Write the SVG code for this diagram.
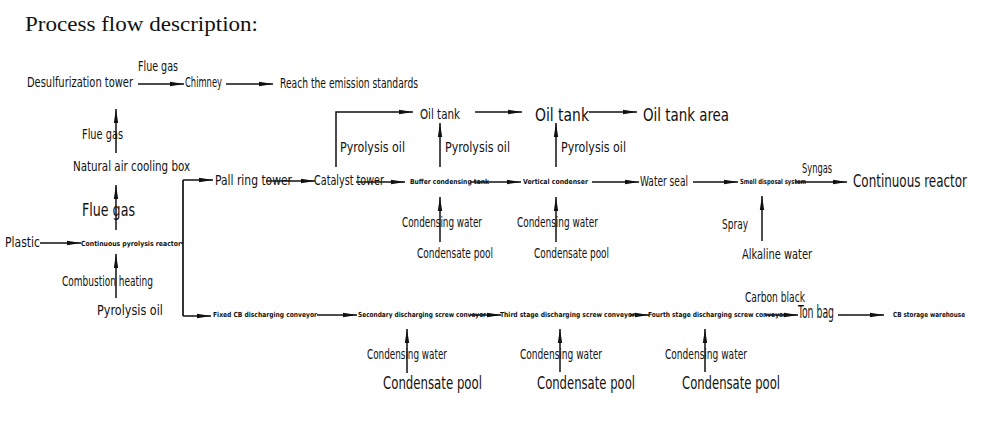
<svg xmlns="http://www.w3.org/2000/svg" width="983" height="422" viewBox="0 0 983 422">
<style>
text{font-family:"DejaVu Sans Condensed","Liberation Sans Narrow","Liberation Sans",sans-serif;fill:#111;}
.s13{font-size:14px;}
.s17{font-size:17px;}
.s7{font-size:7px;font-weight:bold;}
.ttl{font-size:22px;font-family:"Liberation Serif","DejaVu Serif",serif;}
.c{fill:none;stroke:#111;stroke-width:1.5;marker-end:url(#ah);}
.p{fill:none;stroke:#111;stroke-width:1.7;}
</style>
<defs>
<marker id="ah" markerUnits="userSpaceOnUse" markerWidth="15" markerHeight="7" refX="14" refY="3.5" orient="auto">
<path d="M0,1.3 L14,3.5 L0,5.7 z" fill="#111"/>
</marker>
</defs>
<rect width="983" height="422" fill="#fff"/>
<text class="ttl" x="25" y="31" textLength="233" lengthAdjust="spacingAndGlyphs">Process flow description:</text>

<g id="connectors">
<line class="c" x1="138" y1="84" x2="184" y2="84"/>
<line class="c" x1="226" y1="84" x2="273" y2="84"/>
<line class="c" x1="116" y1="153" x2="116" y2="109"/>
<line class="c" x1="116" y1="230" x2="116" y2="185"/>
<line class="c" x1="116" y1="298" x2="116" y2="254"/>
<line class="c" x1="40" y1="243" x2="81" y2="243"/>
<polyline class="p" points="181,243 183,243"/>
<line class="p" x1="183" y1="180" x2="183" y2="316"/>
<line class="c" x1="183" y1="180" x2="213" y2="180"/>
<line class="c" x1="183" y1="316" x2="211" y2="316"/>
<line class="c" x1="266" y1="181" x2="315" y2="181"/>
<line class="c" x1="356" y1="182" x2="405" y2="182"/>
<line class="c" x1="470" y1="182" x2="521" y2="182"/>
<line class="c" x1="592" y1="182" x2="639" y2="182"/>
<line class="c" x1="693" y1="182" x2="738" y2="182"/>
<line class="c" x1="795" y1="182" x2="847" y2="182"/>
<polyline class="c" points="336,167 336,112 413,112"/>
<line class="c" x1="475" y1="112" x2="522" y2="112"/>
<line class="c" x1="589" y1="112" x2="637" y2="112"/>
<line class="c" x1="440" y1="167" x2="440" y2="123"/>
<line class="c" x1="556" y1="167" x2="556" y2="123"/>
<line class="c" x1="440" y1="242" x2="440" y2="197"/>
<line class="c" x1="556" y1="242" x2="556" y2="197"/>
<line class="c" x1="762" y1="241" x2="762" y2="196"/>
<line class="c" x1="317" y1="315" x2="357" y2="315"/>
<line class="c" x1="470" y1="315" x2="501" y2="315"/>
<line class="c" x1="630" y1="315" x2="649" y2="315"/>
<line class="c" x1="765" y1="315" x2="798" y2="315"/>
<line class="c" x1="838" y1="315" x2="884" y2="315"/>
<line class="c" x1="407" y1="373" x2="407" y2="329"/>
<line class="c" x1="560" y1="372" x2="560" y2="329"/>
<line class="c" x1="705" y1="372" x2="705" y2="329"/>
<text class="s13" x="138" y="71" textLength="40" lengthAdjust="spacingAndGlyphs">Flue gas</text>
<text class="s13" x="82" y="139" textLength="41" lengthAdjust="spacingAndGlyphs">Flue gas</text>
<text class="s17" x="82" y="216" textLength="53" lengthAdjust="spacingAndGlyphs">Flue gas</text>
<text class="s13" x="62" y="286" textLength="91" lengthAdjust="spacingAndGlyphs">Combustion heating</text>
<text class="s13" x="340" y="152" textLength="65" lengthAdjust="spacingAndGlyphs">Pyrolysis oil</text>
<text class="s13" x="445" y="152" textLength="65" lengthAdjust="spacingAndGlyphs">Pyrolysis oil</text>
<text class="s13" x="561" y="152" textLength="65" lengthAdjust="spacingAndGlyphs">Pyrolysis oil</text>
<text class="s13" x="802" y="173" textLength="30" lengthAdjust="spacingAndGlyphs">Syngas</text>
<text class="s13" x="722" y="229" textLength="26" lengthAdjust="spacingAndGlyphs">Spray</text>
<text class="s13" x="402" y="227" textLength="80" lengthAdjust="spacingAndGlyphs">Condensing water</text>
<text class="s13" x="517" y="227" textLength="81" lengthAdjust="spacingAndGlyphs">Condensing water</text>
<text class="s13" x="745" y="302" textLength="60" lengthAdjust="spacingAndGlyphs">Carbon black</text>
<text class="s13" x="367" y="359" textLength="80" lengthAdjust="spacingAndGlyphs">Condensing water</text>
<text class="s13" x="520" y="359" textLength="82" lengthAdjust="spacingAndGlyphs">Condensing water</text>
<text class="s13" x="665" y="359" textLength="82" lengthAdjust="spacingAndGlyphs">Condensing water</text>
</g>

<g id="desulfurization-tower"><text class="s13" x="27" y="87" textLength="106" lengthAdjust="spacingAndGlyphs">Desulfurization tower</text></g>
<g id="chimney"><text class="s13" x="185" y="87" textLength="37" lengthAdjust="spacingAndGlyphs">Chimney</text></g>
<g id="emission-standards"><text class="s13" x="280" y="88" textLength="138" lengthAdjust="spacingAndGlyphs">Reach the emission standards</text></g>
<g id="air-cooling-box"><text class="s13" x="73" y="171" textLength="117" lengthAdjust="spacingAndGlyphs">Natural air cooling box</text></g>
<g id="plastic"><text class="s13" x="5" y="247" textLength="35" lengthAdjust="spacingAndGlyphs">Plastic</text></g>
<g id="pyrolysis-reactor"><text class="s7" x="81" y="246" textLength="100" lengthAdjust="spacingAndGlyphs">Continuous pyrolysis reactor</text></g>
<g id="pyrolysis-oil-fuel"><text class="s13" x="97" y="315" textLength="66" lengthAdjust="spacingAndGlyphs">Pyrolysis oil</text></g>
<g id="pall-ring-tower"><text class="s13" x="215" y="185" textLength="77" lengthAdjust="spacingAndGlyphs">Pall ring tower</text></g>
<g id="catalyst-tower"><text class="s13" x="314" y="185" textLength="70" lengthAdjust="spacingAndGlyphs">Catalyst tower</text></g>
<g id="buffer-tank"><text class="s7" x="410" y="184" textLength="79" lengthAdjust="spacingAndGlyphs">Buffer condensing tank</text></g>
<g id="vertical-condenser"><text class="s7" x="523" y="184" textLength="65" lengthAdjust="spacingAndGlyphs">Vertical condenser</text></g>
<g id="water-seal"><text class="s13" x="640" y="186" textLength="48" lengthAdjust="spacingAndGlyphs">Water seal</text></g>
<g id="smell-disposal"><text class="s7" x="740" y="184" textLength="66" lengthAdjust="spacingAndGlyphs">Smell disposal system</text></g>
<g id="continuous-reactor" transform="translate(853,187) scale(0.82,1)"><text class="s17" x="0" y="0" textLength="139" lengthAdjust="spacingAndGlyphs">Continuous reactor</text></g>
<g id="alkaline-water"><text class="s13" x="742" y="259" textLength="70" lengthAdjust="spacingAndGlyphs">Alkaline water</text></g>
<g id="oil-tank-1"><text class="s13" x="420" y="119" textLength="40" lengthAdjust="spacingAndGlyphs">Oil tank</text></g>
<g id="oil-tank-2"><text class="s17" x="535" y="121" textLength="54" lengthAdjust="spacingAndGlyphs">Oil tank</text></g>
<g id="oil-tank-area"><text class="s17" x="643" y="121" textLength="86" lengthAdjust="spacingAndGlyphs">Oil tank area</text></g>
<g id="condensate-pool-1"><text class="s13" x="417" y="258" textLength="76" lengthAdjust="spacingAndGlyphs">Condensate pool</text></g>
<g id="condensate-pool-2"><text class="s13" x="534" y="258" textLength="75" lengthAdjust="spacingAndGlyphs">Condensate pool</text></g>
<g id="fixed-cb-conveyor"><text class="s7" x="213" y="317" textLength="104" lengthAdjust="spacingAndGlyphs">Fixed CB discharging conveyor</text></g>
<g id="secondary-conveyor"><text class="s7" x="358" y="317" textLength="128" lengthAdjust="spacingAndGlyphs">Secondary discharging screw conveyor</text></g>
<g id="third-conveyor"><text class="s7" x="500" y="317" textLength="135" lengthAdjust="spacingAndGlyphs">Third stage discharging screw conveyor</text></g>
<g id="fourth-conveyor"><text class="s7" x="648" y="317" textLength="138" lengthAdjust="spacingAndGlyphs">Fourth stage discharging screw conveyor</text></g>
<g id="ton-bag"><text class="s17" x="798" y="318" textLength="36" lengthAdjust="spacingAndGlyphs">Ton bag</text></g>
<g id="cb-warehouse"><text class="s7" x="893" y="317" textLength="72" lengthAdjust="spacingAndGlyphs">CB storage warehouse</text></g>
<g id="condensate-pool-3"><text class="s17" x="383" y="389" textLength="99" lengthAdjust="spacingAndGlyphs">Condensate pool</text></g>
<g id="condensate-pool-4"><text class="s17" x="537" y="389" textLength="98" lengthAdjust="spacingAndGlyphs">Condensate pool</text></g>
<g id="condensate-pool-5"><text class="s17" x="682" y="389" textLength="98" lengthAdjust="spacingAndGlyphs">Condensate pool</text></g>
</svg>
